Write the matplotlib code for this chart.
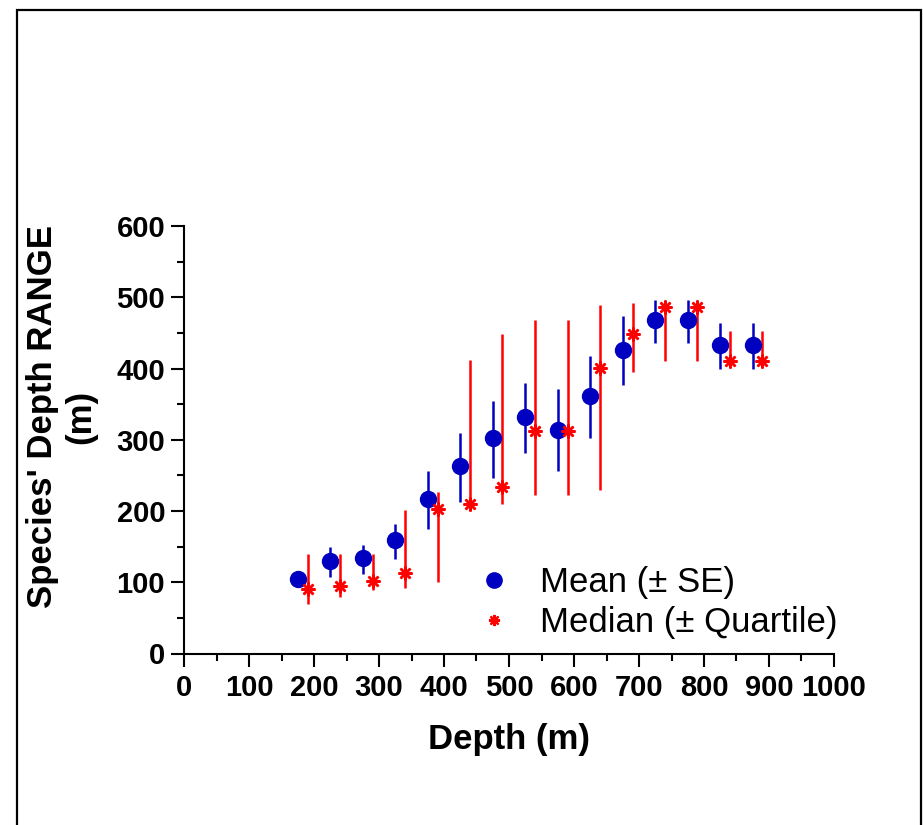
import numpy as np
import matplotlib
matplotlib.use("Agg")
import matplotlib.pyplot as plt
from matplotlib.lines import Line2D
from matplotlib.patches import Rectangle

# depth bins (m) and stats
depth = [175, 225, 275, 325, 375, 425, 475, 525, 575, 625, 675, 725, 775, 825, 875]
mean_range = [105, 130, 133.5, 159, 217.5, 263, 302.5, 332, 314, 361.5, 426.5, 467.5, 467.5, 433.5, 433.5]
mean_low = [101, 107, 112, 132, 175, 213, 247, 281, 256, 303, 377, 436, 436, 399, 399]
mean_high = [109, 150, 152, 182, 256, 310, 354, 380, 371, 417.5, 473, 495.5, 495.5, 464, 464]

median_depth = [190, 240, 290, 340, 390, 440, 490, 540, 590, 640, 690, 740, 790, 840, 890]
median_range = [90.5, 94.5, 102, 112.5, 203.5, 210.5, 234, 312.5, 312.5, 401, 448, 486, 486, 410.5, 410.5]
quart_low = [69, 80, 89, 92, 100.5, 201, 210.5, 222, 222, 230, 395, 410, 410, 410, 410]
quart_high = [140, 140, 140, 202, 227, 411.5, 449, 467.5, 467.5, 488.5, 492, 495, 495, 452.5, 452.5]

blue = "#0000C0"
red = "#FF0000"
star = (8, 2, 0)

plt.rcParams['font.family'] = ['Liberation Sans', 'DejaVu Sans']

fig = plt.figure(figsize=(9.23, 8.25), dpi=100)
ax = fig.add_axes([184/923, 1 - 653.5/825, 650/923, 427.5/825])

m = np.array(mean_range)
md = np.array(median_range)
ax.errorbar(depth, m, yerr=[m - np.array(mean_low), np.array(mean_high) - m],
            fmt='o', color=blue, ms=11.5, elinewidth=1.8, capsize=0, zorder=3)
ax.errorbar(median_depth, md, yerr=[md - np.array(quart_low), np.array(quart_high) - md],
            fmt='none', ecolor=red, elinewidth=1.8, capsize=0, zorder=2)
ax.plot(median_depth, md, ls='none', marker=star, ms=10, mew=1.8, color=red, zorder=4)

ax.set_xlim(0, 1000)
ax.set_ylim(0, 600)
ax.set_xticks(np.arange(0, 1001, 100))
ax.set_xticks(np.arange(50, 1000, 100), minor=True)
ax.set_yticks(np.arange(0, 601, 100))
ax.set_yticks(np.arange(50, 600, 100), minor=True)
for s in ['top', 'right']:
    ax.spines[s].set_visible(False)
for s in ['left', 'bottom']:
    ax.spines[s].set_linewidth(1.5)
ax.tick_params(which='major', direction='out', length=9.5, width=1.5, pad=4)
ax.tick_params(which='minor', direction='out', length=5, width=1.5)
ax.tick_params(axis='x', which='major', pad=5)
for lab in ax.get_xticklabels() + ax.get_yticklabels():
    lab.set_fontsize(21)
    lab.set_fontweight('bold')

fig.text(509/923, 1 - 740/825, "Depth (m)", ha='center', va='center',
         fontsize=25, fontweight='bold')
fig.text(62/923, 1 - 417/825, "Species' Depth RANGE\n(m)", ha='center', va='center',
         rotation=90, multialignment='center', fontsize=25, fontweight='bold')

handles = [Line2D([], [], ls='none', marker='o', ms=11, color=blue),
           Line2D([], [], ls='none', marker=star, ms=8, mew=1.6, color=red)]
ax.legend(handles, ["Mean (\u00b1 SE)", "Median (\u00b1 Quartile)"],
          loc='upper left', bbox_to_anchor=(477/923, 1 - 566/825),
          bbox_transform=fig.transFigure, frameon=False, fontsize=25,
          handlelength=1.0, handletextpad=0.8, labelspacing=0.2,
          borderpad=0, borderaxespad=0)

# outer frame
fig.add_artist(Rectangle((17/923, -0.05), (921 - 17)/923, 1.05 - 10/825,
                         transform=fig.transFigure, fill=False, lw=1.6, ec='black'))

fig.savefig("out.png", dpi=100)
